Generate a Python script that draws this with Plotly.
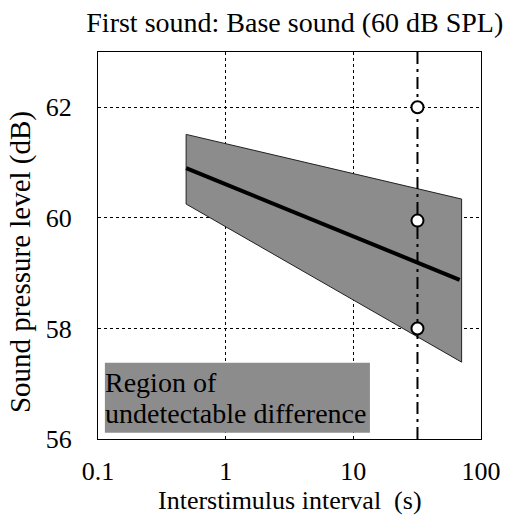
import plotly.graph_objects as go

# Data
band_x = [0.49, 70.5, 70.5, 0.49]
band_y = [61.51, 60.34, 57.39, 60.25]
line_x = [0.49, 68]
line_y = [60.9, 58.88]
isi_ref = 31.8
point_y = [62, 59.95, 58]
x_ticks = [0.1, 1, 10, 100]
x_tick_labels = ["0.1", "1", "10", "100"]
y_ticks = [56, 58, 60, 62]
title_text = "First sound: Base sound (60 dB SPL)"
x_title = "Interstimulus interval\u00a0\u00a0(s)"
y_title = "Sound pressure level (dB)"
region_label_lines = ["Region of", "undetectable difference"]

FONT = "Liberation Serif"

fig = go.Figure()
fig.add_trace(go.Scatter(x=band_x + [band_x[0]], y=band_y + [band_y[0]], mode="lines",
                         fill="toself", fillcolor="#8c8c8c",
                         line=dict(color="#222222", width=1), hoverinfo="skip",
                         showlegend=False))
fig.add_trace(go.Scatter(x=line_x, y=line_y, mode="lines",
                         line=dict(color="black", width=4), showlegend=False))
fig.add_trace(go.Scatter(x=[isi_ref, isi_ref], y=[56, 63], mode="lines",
                         line=dict(color="black", width=2, dash="12px,5px,3px,5px"),
                         showlegend=False))
fig.add_trace(go.Scatter(x=[isi_ref] * len(point_y), y=point_y, mode="markers",
                         marker=dict(symbol="circle", size=12, color="white",
                                     line=dict(color="black", width=2)),
                         showlegend=False))

# Region label box
fig.add_shape(type="rect", xref="paper", yref="paper", x0=0.018, x1=0.71,
              y0=0.016, y1=0.197, fillcolor="#8c8c8c", line=dict(width=0), layer="above")
for txt, yy in zip(region_label_lines, [0.145, 0.067]):
    fig.add_annotation(xref="paper", yref="paper", x=0.014, y=yy, text=txt,
                       showarrow=False, xanchor="left", yanchor="middle", align="left",
                       font=dict(family=FONT, size=28, color="black"))

# Axis titles as annotations for precise placement
fig.add_annotation(xref="paper", yref="paper", x=0.501, y=-0.159, text=x_title,
                   showarrow=False, xanchor="center", yanchor="middle",
                   font=dict(family=FONT, size=26, color="black"))
fig.add_annotation(xref="paper", yref="paper", x=-0.204, y=0.457, text=y_title,
                   showarrow=False, xanchor="center", yanchor="middle", textangle=-90,
                   font=dict(family=FONT, size=29, color="black"))

fig.update_layout(
    width=510, height=517,
    margin=dict(l=98, r=29, t=52, b=78),
    paper_bgcolor="white", plot_bgcolor="white",
    title=dict(text=title_text, x=0.578, xanchor="center", y=0.957, yanchor="middle",
               font=dict(family=FONT, size=28, color="black")),
    font=dict(family=FONT, size=26, color="black"),
)
fig.update_xaxes(type="log", range=[-1, 2], tickvals=x_ticks, ticktext=x_tick_labels,
                 showline=True, linecolor="black", linewidth=1, mirror=True,
                 showgrid=True, gridcolor="black", griddash="dot", gridwidth=1,
                 ticks="", ticklabelstandoff=9, automargin=False,
                 tickfont=dict(family=FONT, size=26), zeroline=False)
fig.update_yaxes(range=[56, 63], tickvals=y_ticks,
                 showline=True, linecolor="black", linewidth=1, mirror=True,
                 showgrid=True, gridcolor="black", griddash="dot", gridwidth=1,
                 ticks="", ticklabelstandoff=20, automargin=False,
                 tickfont=dict(family=FONT, size=26), zeroline=False)

fig.write_html("out.html", config={"displayModeBar": False},
               post_script="document.body.style.margin='0';document.body.style.padding='0';")
